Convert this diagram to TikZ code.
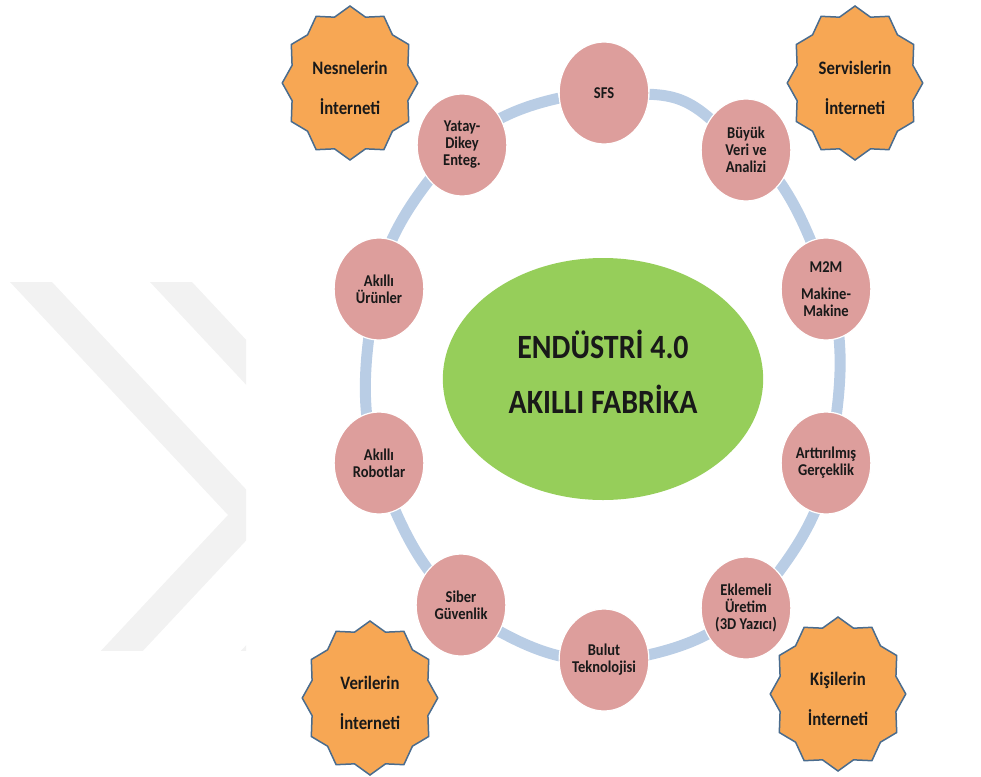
\documentclass[tikz,border=0pt]{standalone}
\usepackage{fontspec}
\setmainfont{Carlito}
\usetikzlibrary{
    shapes.geometric,
    backgrounds,
    positioning
}
\definecolor{ringblue}{RGB}{185,205,229}
\definecolor{topicpink}{RGB}{221,158,156}
\definecolor{hubgreen}{RGB}{150,206,90}
\definecolor{staronge}{RGB}{247,167,84}
\definecolor{staredge}{RGB}{74,108,142}
\definecolor{markgray}{RGB}{242,242,242}
\tikzset{
    topic/.style={circle, fill=topicpink, draw=white, line width=1.2pt,
        minimum size=102pt, inner sep=0pt, align=center, text=black!90,
        font=\fontsize{16.5}{17}\selectfont\bfseries},
    hub/.style={ellipse, fill=hubgreen, minimum width=364pt, minimum height=242pt,
        inner sep=0pt, align=center, text=black!90, text depth=14pt,
        font=\fontsize{34}{55}\selectfont\bfseries},
    webstar/.style={star, star points=12, star point ratio=1.13, fill=staronge,
        draw=staredge, line width=1.5pt, minimum size=154pt, inner sep=0pt,
        align=center, text=black!90, text height=64pt,
        font=\fontsize{19}{40}\selectfont\bfseries},
    ringline/.style={draw=ringblue, line width=11pt}
}

\begin{document}
\begin{tikzpicture}[x=1.13636pt, y=-1pt, xscale=0.88,
    every node/.append style={transform shape}]
    \useasboundingbox (0,0) rectangle (981,776);

    \begin{scope}
        \clip (0,282) rectangle (246,650);
        \fill[markgray] (10,282) -- (52,282) -- (270,515) -- (52,748) -- (10,748) -- (228,515) -- cycle;
        \fill[markgray] (150,282) -- (192,282) -- (410,515) -- (192,748) -- (150,748) -- (368,515) -- cycle;
    \end{scope}

    \node[hub] (hub) at (603,379) {ENDÜSTRİ 4.0\\AKILLI FABRİKA};

    \node[topic] (sfs)   at (604,93)  {SFS};
    \node[topic] (veri)  at (746,150) {Büyük\\Veri ve\\Analizi};
    \node[topic] (mtm)   at (826,289) {M2M\\[10pt]Makine-\\Makine};
    \node[topic] (artir) at (826,463) {Arttırılmış\\Gerçeklik};
    \node[topic] (eklem) at (746,608) {Eklemeli\\Üretim\\(3D Yazıcı)};
    \node[topic] (bulut) at (604,660) {Bulut\\Teknolojisi};
    \node[topic] (siber) at (461,605) {Siber\\Güvenlik};
    \node[topic] (robot) at (379,463) {Akıllı\\Robotlar};
    \node[topic] (urun)  at (379,289) {Akıllı\\Ürünler};
    \node[topic] (yatay) at (462,145) {Yatay-\\Dikey\\Enteg.};

    \begin{scope}[on background layer]
        \draw[ringline] (sfs) to[bend left=18] (veri) to[bend left=18] (mtm)
            to[bend left=18] (artir) to[bend left=18] (eklem) to[bend left=18] (bulut)
            to[bend left=18] (siber) to[bend left=18] (robot) to[bend left=18] (urun)
            to[bend left=18] (yatay) to[bend left=18] (sfs);
    \end{scope}

    \node[webstar] (nesne)  at (350,83)  {Nesnelerin\\İnterneti};
    \node[webstar] (servis) at (855,83)  {Servislerin\\İnterneti};
    \node[webstar] (veril)  at (370,698) {Verilerin\\İnterneti};
    \node[webstar] (kisi)   at (838,694) {Kişilerin\\İnterneti};
\end{tikzpicture}
\end{document}
